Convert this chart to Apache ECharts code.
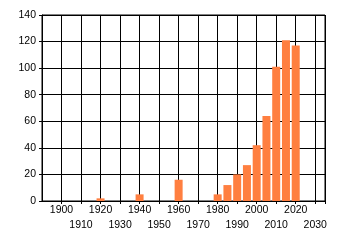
<!DOCTYPE html>
<html>
<head>
<meta charset="utf-8">
<script src="https://cdn.jsdelivr.net/npm/echarts@6/dist/echarts.min.js"></script>
<style>
html,body{margin:0;padding:0;background:#fff;}
#chart{width:340px;height:245px;}
</style>
</head>
<body>
<div id="chart"></div>
<script>
var years = [1920, 1940, 1960, 1980, 1985, 1990, 1995, 2000, 2005, 2010, 2015, 2020];
var counts = [2, 5, 16, 5, 12, 20, 27, 42, 64, 101, 121, 117];
var yTicks = [0, 20, 40, 60, 80, 100, 120, 140];
var xTickLabels = [1900, 1910, 1920, 1930, 1940, 1950, 1960, 1970, 1980, 1990, 2000, 2010, 2020, 2030];

var chart = echarts.init(document.getElementById('chart'), null, {renderer: 'canvas'});
var font = 'Liberation Sans, Arial, sans-serif';
chart.setOption({
  animation: false,
  backgroundColor: '#fff',
  grid: {left: 42, right: 15, top: 15, bottom: 44, show: true, borderColor: '#000', borderWidth: 1, backgroundColor: 'transparent'},
  xAxis: {
    type: 'value', min: 1890, max: 2035, interval: 10,
    axisLine: {show: true, lineStyle: {color: '#000', width: 1}},
    axisTick: {show: true, length: 3, lineStyle: {color: '#000'}},
    splitLine: {show: true, lineStyle: {color: '#000', width: 1}},
    axisLabel: {
      color: '#000', fontFamily: font, fontSize: 10.5, margin: 2, lineHeight: 15,
      showMinLabel: false,
      formatter: function (v) {
        var i = xTickLabels.indexOf(v);
        if (i < 0) return '';
        return (i % 2 === 1) ? '\n' + v : String(v);
      }
    }
  },
  yAxis: {
    type: 'value', min: yTicks[0], max: yTicks[yTicks.length - 1], interval: 20,
    axisLine: {show: true, lineStyle: {color: '#000', width: 1}},
    axisTick: {show: true, length: 3, lineStyle: {color: '#000'}},
    splitLine: {show: true, lineStyle: {color: '#000', width: 1}},
    axisLabel: {color: '#000', fontFamily: font, fontSize: 10.5, margin: 6}
  },
  series: [{
    type: 'bar',
    barWidth: 8,
    itemStyle: {color: '#ff7f40'},
    data: years.map(function (y, i) { return [y, counts[i]]; })
  }]
});
</script>
</body>
</html>
